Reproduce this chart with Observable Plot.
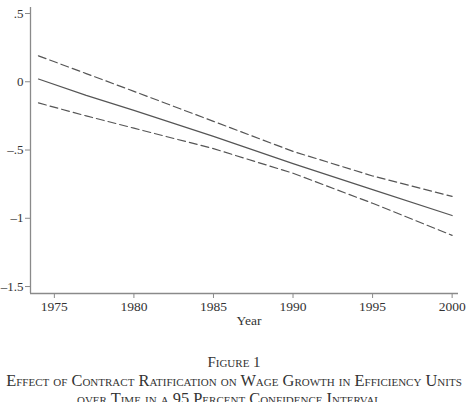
<!DOCTYPE html>
<html>
<head>
<meta charset="utf-8">
<script src="https://cdn.jsdelivr.net/npm/d3@7"></script>
<script src="https://cdn.jsdelivr.net/npm/@observablehq/plot@0.6"></script>
<style>
  html, body { margin: 0; padding: 0; background: #fff; }
  #wrap { position: relative; width: 468px; height: 402px; overflow: hidden; font-family: "Liberation Serif", "DejaVu Serif", serif; color: #333; }
  .cap { position: absolute; left: 50%; transform: translateX(-50%); white-space: nowrap; font-variant: small-caps; text-align: center; line-height: 1; }
  #fig { top: 355px; font-size: 15px; }
  #t1 { top: 373px; font-size: 16.4px; margin-left: 0px; }
  #t2 { top: 391px; font-size: 16.4px; margin-left: -5px; }
</style>
</head>
<body>
<div id="wrap">
  <div id="chart"></div>
  <div class="cap" id="fig">Figure 1</div>
  <div class="cap" id="t1">Effect of Contract Ratification on Wage Growth in Efficiency Units</div>
  <div class="cap" id="t2">over Time in a 95 Percent Confidence Interval</div>
</div>
<script>
// Predicted effect by year with the bounds of its 95% confidence interval
const years    = [1974, 1977, 1980, 1985, 1990, 1995, 2000];
const estimate = [0.02, -0.10, -0.21, -0.40, -0.60, -0.79, -0.98];
const upper    = [0.19, 0.06, -0.07, -0.29, -0.51, -0.69, -0.84];
const lower    = [-0.155, -0.25, -0.34, -0.49, -0.67, -0.89, -1.125];

const xTicks = [1975, 1980, 1985, 1990, 1995, 2000];
const yTicks = [0.5, 0, -0.5, -1, -1.5];
const yTickLabels = [".5", "0", "\u2013.5", "\u20131", "\u20131.5"];

const rows = years.map((year, i) => ({year, estimate: estimate[i], upper: upper[i], lower: lower[i]}));

const xDomain = [1973.5, 2000.4];
const yDomain = [-1.551, 0.544];
const axisColor = "#8a8a8a";
const lineColor = "#555";

const chart = Plot.plot({
  width: 468,
  height: 335,
  marginLeft: 30,
  marginRight: 10,
  marginTop: 7,
  marginBottom: 42,
  style: {fontFamily: "'Liberation Serif', 'DejaVu Serif', serif", fontSize: "13.5px", color: "#333", background: "#fff"},
  x: {domain: xDomain, label: null},
  y: {domain: yDomain, label: null},
  marks: [
    Plot.ruleX([xDomain[0]], {stroke: axisColor, strokeWidth: 1.3}),
    Plot.ruleY([yDomain[0]], {stroke: axisColor, strokeWidth: 1.3}),
    Plot.axisY({ticks: yTicks, tickFormat: d => yTickLabels[yTicks.indexOf(d)], tickSize: 5, tickPadding: 2, stroke: axisColor, fill: "#333", fontSize: 13}),
    Plot.axisX({ticks: xTicks, tickFormat: d => String(d), tickSize: 5, tickPadding: 3, stroke: axisColor, fill: "#333", fontSize: 13.5}),
    Plot.text(["Year"], {frameAnchor: "bottom", dy: 31.5, dx: 4.5, fill: "#333", fontSize: 13.5}),
    Plot.line(rows, {x: "year", y: "upper", stroke: lineColor, strokeWidth: 1.2, strokeDasharray: "8,4"}),
    Plot.line(rows, {x: "year", y: "lower", stroke: lineColor, strokeWidth: 1.2, strokeDasharray: "8,4"}),
    Plot.line(rows, {x: "year", y: "estimate", stroke: lineColor, strokeWidth: 1.2})
  ]
});
document.getElementById("chart").appendChild(chart);
</script>
</body>
</html>
